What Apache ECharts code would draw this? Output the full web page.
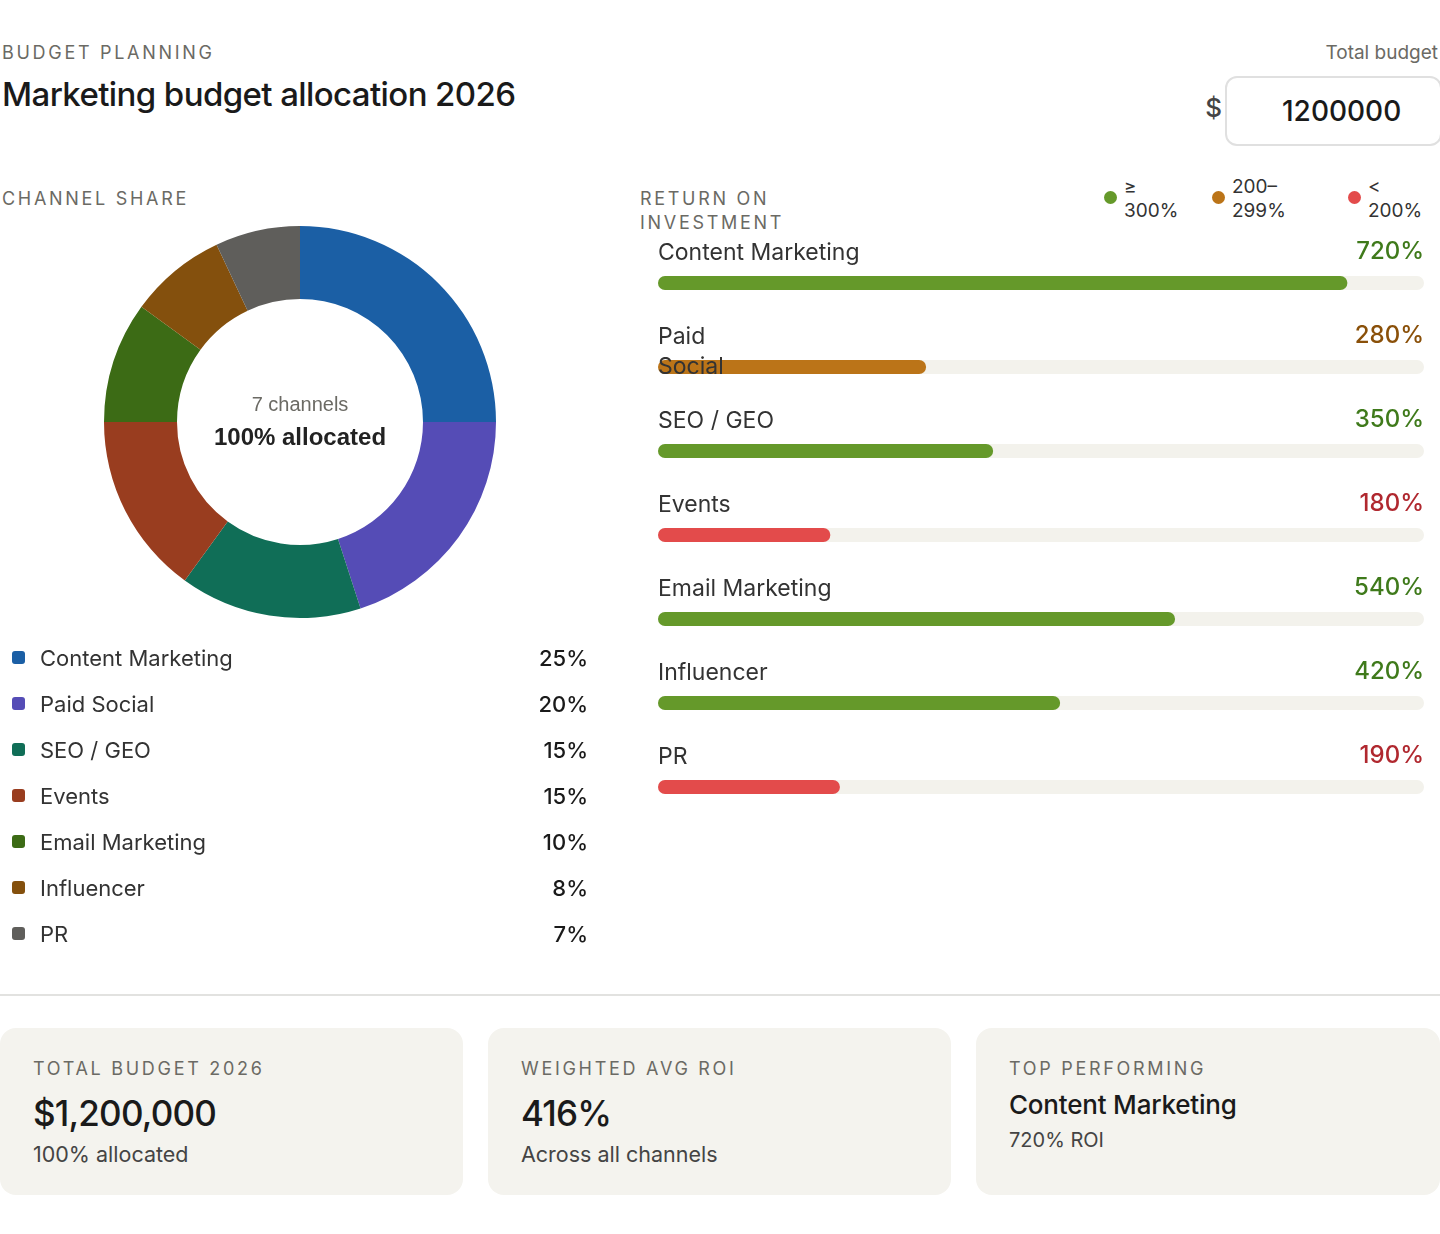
<!DOCTYPE html>
<html lang="en">
<head>
<meta charset="UTF-8">
<title>Marketing budget allocation 2026</title>
<script src="https://cdn.jsdelivr.net/npm/echarts@6/dist/echarts.min.js"></script>
<style>
    body{margin:0;background:#fff;font-family:Inter,"Noto Sans",sans-serif;color:#1a1a1a;}
    #page{position:relative;width:1440px;height:1234px;overflow:hidden;}
    .abs{position:absolute;}
    .eyebrow{font-size:18px;line-height:24px;letter-spacing:2.7px;color:#6b6a64;text-transform:uppercase;}
    #title{left:2px;top:74px;font-size:33px;line-height:40px;font-weight:500;letter-spacing:-0.6px;}
    #totalLabel{right:2px;top:41px;font-size:19px;line-height:24px;color:#6b6a64;}
    #dollar{right:218px;top:92px;font-size:26px;line-height:32px;color:#444;font-weight:500;}
    #budgetBox{left:1225px;top:76px;height:66px;border:2px solid #e0e0e0;border-radius:12px;
        font-size:28px;line-height:66px;padding-left:55px;box-sizing:content-box;width:158px;font-weight:500;}
    #bands .item{position:absolute;top:175px;font-size:19px;line-height:24px;color:#333;}
    #bands .dot{position:absolute;left:0;top:16px;width:13px;height:13px;border-radius:50%;}
    #bands .txt{position:absolute;left:20px;top:0;white-space:nowrap;}
    #shareList{left:0;top:635px;width:590px;}
    .row{position:relative;height:46px;line-height:46px;font-size:22px;}
    .row .sw{position:absolute;left:12px;top:16px;width:13px;height:13px;border-radius:3px;}
    .row .nm{position:absolute;left:40px;color:#333;}
    .row .pc{position:absolute;right:2px;font-weight:500;color:#1a1a1a;}
    #divider{left:0;top:994px;width:1440px;height:0;border-top:2px solid #e2e2e0;}
    .card{position:absolute;top:1028px;height:167px;width:464px;background:#f4f3ee;border-radius:16px;box-sizing:border-box;padding:29px 0 0 33px;}
    .card .big{font-size:35px;line-height:44px;font-weight:500;margin-top:10px;letter-spacing:-0.8px;}
    .card .sub{font-size:21.5px;line-height:28px;color:#444;margin-top:5px;}
    .card .name{font-size:26px;line-height:32px;font-weight:500;margin-top:8px;letter-spacing:-0.2px;}
    .card .roi{font-size:20px;line-height:26px;color:#444;margin-top:6px;}
</style>
</head>
<body>
<div id="page">
    <div class="abs eyebrow" style="left:2px;top:41px;">Budget planning</div>
    <div class="abs" id="title">Marketing budget allocation 2026</div>
    <div class="abs" id="totalLabel">Total budget</div>
    <div class="abs" id="dollar">$</div>
    <div class="abs" id="budgetBox"></div>

    <div class="abs eyebrow" style="left:2px;top:187px;">Channel share</div>
    <div class="abs eyebrow" style="left:640px;top:187px;width:170px;">Return on investment</div>
    <div id="bands"></div>

    <!-- donut -->
    <div class="abs" id="donut" style="left:0;top:210px;width:600px;height:430px;"></div>
    <div class="abs" id="shareList"></div>

    <!-- ROI bars -->
    <div class="abs" id="roiChart" style="left:640px;top:230px;width:800px;height:610px;"></div>

    <div class="abs" id="divider"></div>
    <div id="cards"></div>
</div>

<script type="text/javascript">
    // data
    var totalBudget = 1200000;
    var channels = ['Content Marketing', 'Paid Social', 'SEO / GEO', 'Events', 'Email Marketing', 'Influencer', 'PR'];
    var shares = [25, 20, 15, 15, 10, 8, 7];
    var roi = [720, 280, 350, 180, 540, 420, 190];
    var roiMax = 800;
    var bandLabels = [['≥', '300%'], ['200–', '299%'], ['<', '200%']];

    // styles
    var sliceColors = ['#1b5fa5', '#554cb6', '#106e57', '#993d1f', '#3c6b15', '#84500d', '#5f5e5b'];
    var bandBar = ['#65992a', '#bb7418', '#e34b4b'];
    var bandText = ['#3f7a1b', '#8a5009', '#b0282f'];
    var bandLeft = [1104, 1212, 1348];
    var font = 'Inter, "Noto Sans", sans-serif';

    function band(v) {
        if (v >= 300) return 0;
        if (v >= 200) return 1;
        return 2;
    }

    document.getElementById('budgetBox').textContent = totalBudget;

    // ROI band legend
    var bandsHtml = '';
    for (var b = 0; b < bandLabels.length; b++) {
        bandsHtml += '<div class="item" style="left:' + bandLeft[b] + 'px">' +
            '<span class="dot" style="background:' + bandBar[b] + '"></span>' +
            '<span class="txt">' + bandLabels[b].join('<br>') + '</span></div>';
    }
    document.getElementById('bands').innerHTML = bandsHtml;

    // share list
    var listHtml = '';
    for (var i = 0; i < channels.length; i++) {
        listHtml += '<div class="row"><span class="sw" style="background:' + sliceColors[i] + '"></span>' +
            '<span class="nm">' + channels[i] + '</span><span class="pc">' + shares[i] + '%</span></div>';
    }
    document.getElementById('shareList').innerHTML = listHtml;

    // donut
    var donut = echarts.init(document.getElementById('donut'));
    var totalShare = shares.reduce(function (a, c) { return a + c; }, 0);
    donut.setOption({
        animation: false,
        graphic: [
            {type: 'text', x: 300, y: 195, silent: true,
                style: {text: channels.length + ' channels', align: 'center', verticalAlign: 'middle', textAlign: 'center', textVerticalAlign: 'middle',
                    fontSize: 20, fontFamily: '"Liberation Sans", Arial, sans-serif', fill: '#6b6a64'}},
            {type: 'text', x: 300, y: 228, silent: true,
                style: {text: totalShare + '% allocated', align: 'center', verticalAlign: 'middle', textAlign: 'center', textVerticalAlign: 'middle',
                    fontSize: 24, fontWeight: 'bold', fontFamily: '"Liberation Sans", Arial, sans-serif', fill: '#222'}}
        ],
        series: [{
            type: 'pie',
            center: [300, 212],
            radius: [123, 196],
            startAngle: 90,
            clockwise: true,
            label: {show: false},
            labelLine: {show: false},
            emphasis: {disabled: true},
            itemStyle: {borderWidth: 0},
            data: channels.map(function (c, k) {
                return {name: c, value: shares[k], itemStyle: {color: sliceColors[k]}};
            })
        }]
    });

    // ROI bars
    var roiChart = echarts.init(document.getElementById('roiChart'));
    roiChart.setOption({
        animation: false,
        grid: {left: 18, right: 16, top: 11, height: 588},
        xAxis: {type: 'value', min: 0, max: roiMax, show: false},
        yAxis: {type: 'category', data: channels, inverse: true, show: false},
        series: [
            {
                // track + value label
                type: 'bar',
                barWidth: 14,
                silent: true,
                itemStyle: {color: '#f3f2ec', borderRadius: 7},
                label: {
                    show: true, position: ['100%', -39], align: 'right', verticalAlign: 'top',
                    fontSize: 24, lineHeight: 30, fontFamily: font, fontWeight: 500,
                    formatter: function (p) { return roi[p.dataIndex] + '%'; }
                },
                data: roi.map(function (v) {
                    return {value: roiMax, label: {color: bandText[band(v)]}};
                })
            },
            {
                type: 'bar',
                barWidth: 14,
                barGap: '-100%',
                silent: true,
                itemStyle: {borderRadius: 7},
                label: {
                    show: true, position: [0, -38], align: 'left', verticalAlign: 'top',
                    fontSize: 23, lineHeight: 30, fontFamily: font, color: '#333',
                    formatter: '{b}'
                },
                data: roi.map(function (v, k) {
                    var d = {value: v, itemStyle: {color: bandBar[band(v)]}};
                    if (k === 1) d.label = {width: 70, overflow: 'break'}; // wraps in the original
                    return d;
                })
            }
        ]
    });

    // summary cards
    var weighted = 0;
    var best = 0;
    for (var j = 0; j < channels.length; j++) {
        weighted += shares[j] * roi[j] / totalShare;
        if (roi[j] > roi[best]) best = j;
    }
    document.getElementById('cards').innerHTML =
        '<div class="card" style="left:0;width:463px;"><div class="eyebrow">Total budget 2026</div>' +
        '<div class="big">$' + totalBudget.toLocaleString('en-US') + '</div><div class="sub">' + totalShare + '% allocated</div></div>' +
        '<div class="card" style="left:488px;width:463px;"><div class="eyebrow">Weighted avg ROI</div>' +
        '<div class="big">' + Math.round(weighted) + '%</div><div class="sub">Across all channels</div></div>' +
        '<div class="card" style="left:976px;"><div class="eyebrow">Top performing</div>' +
        '<div class="name">' + channels[best] + '</div><div class="roi">' + roi[best] + '% ROI</div></div>';
</script>
</body>
</html>
